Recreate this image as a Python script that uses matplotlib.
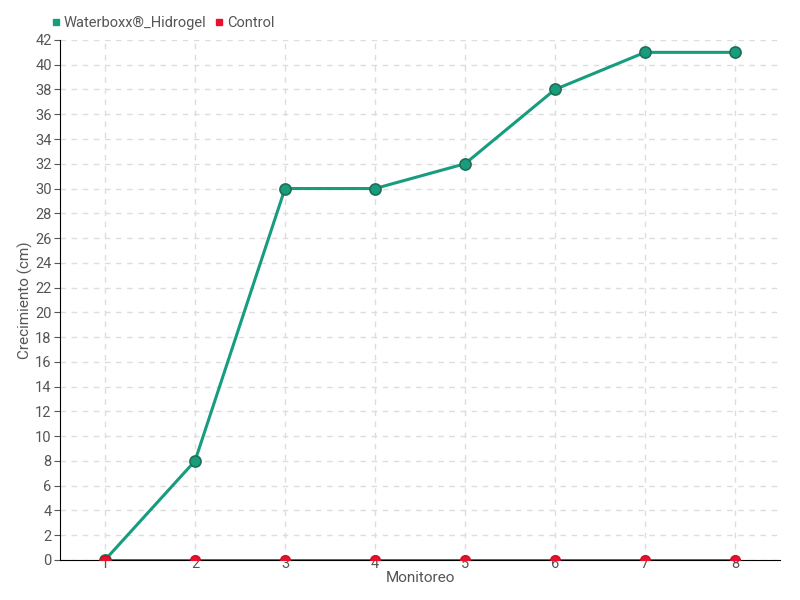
import matplotlib
matplotlib.use('Agg')
import matplotlib.pyplot as plt
from matplotlib.lines import Line2D

monitoreo = [1, 2, 3, 4, 5, 6, 7, 8]
waterboxx = [0, 8, 30, 30, 32, 38, 41, 41]
control = [0, 0, 0, 0, 0, 0, 0, 0]
y_ticks = list(range(0, 43, 2))

GREEN = '#179c7d'
GREEN_EDGE = '#1f6f55'
RED = '#e8112d'
TEXT = '#555555'

plt.rcParams['font.family'] = ['Roboto', 'DejaVu Sans']

fig = plt.figure(figsize=(8, 6), dpi=100)
ax = fig.add_axes([0.075, 0.0667, 0.9, 0.8667])

ax.plot(monitoreo, waterboxx, color=GREEN, lw=2.2, marker='o', ms=8,
        mfc=GREEN, mec=GREEN_EDGE, mew=1.2, zorder=4,
        label='Waterboxx®_Hidrogel')
ax.plot(monitoreo, control, color=RED, lw=1.3, marker='o', ms=7,
        mfc=RED, mec='#c8102a', mew=1, zorder=5, label='Control')

ax.set_xlim(0.5, 8.5)
ax.set_ylim(0, 42)
ax.set_xticks(monitoreo)
ax.set_yticks(y_ticks)
ax.grid(True, color='#dddddd', ls=(0, (4, 4)), lw=1)
ax.set_axisbelow(True)

for s in ['top', 'right']:
    ax.spines[s].set_visible(False)
ax.spines['left'].set_color('black')
ax.spines['bottom'].set_color('black')
ax.tick_params(axis='y', length=4, colors=TEXT, labelsize=10.5, pad=2)
ax.tick_params(axis='x', length=0, colors=TEXT, labelsize=10.5, pad=-2)
for lbl in ax.get_xticklabels() + ax.get_yticklabels():
    lbl.set_color(TEXT)

ax.set_xlabel('Monitoreo', color=TEXT, fontsize=11, labelpad=0)
ax.set_ylabel('Crecimiento (cm)', color=TEXT, fontsize=11)
ax.yaxis.set_label_coords(-0.038, 0.5)

handles = [Line2D([], [], ls='', marker='s', ms=5, color=GREEN),
           Line2D([], [], ls='', marker='s', ms=5, color=RED)]
leg = fig.legend(handles, ['Waterboxx®_Hidrogel', 'Control'],
                 loc='upper left', bbox_to_anchor=(0.045, 0.995), ncol=2,
                 frameon=False, fontsize=10.5, handletextpad=0.0,
                 columnspacing=0.4, handlelength=1)
for t in leg.get_texts():
    t.set_color(TEXT)

fig.savefig('out.png', dpi=100)
